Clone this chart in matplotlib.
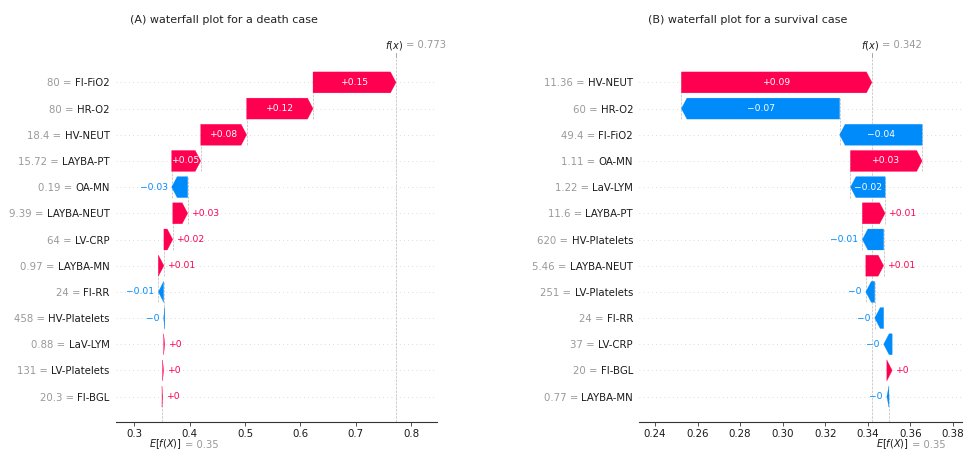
import re
import numpy as np
import matplotlib
matplotlib.use("Agg")
import matplotlib.pyplot as plt
import matplotlib.transforms as mtrans

# ---------------- data (rows listed top to bottom) ----------------
a_features = ["FI-FiO2", "HR-O2", "HV-NEUT", "LAYBA-PT", "OA-MN", "LAYBA-NEUT", "LV-CRP",
              "LAYBA-MN", "FI-RR", "HV-Platelets", "LaV-LYM", "LV-Platelets", "FI-BGL"]
a_feature_values = ["80", "80", "18.4", "15.72", "0.19", "9.39", "64",
                    "0.97", "24", "458", "0.88", "131", "20.3"]
a_shap = [0.15, 0.12, 0.083, 0.0525, -0.029, 0.027, 0.016,
          0.010, -0.0095, -0.002, 0.002, 0.002, 0.001]
a_base = 0.35
a_xticks = [0.3, 0.4, 0.5, 0.6, 0.7, 0.8]
a_xticklabels = ["0.3", "0.4", "0.5", "0.6", "0.7", "0.8"]
a_title = "(A) waterfall plot for a death case"

b_features = ["HV-NEUT", "HR-O2", "FI-FiO2", "OA-MN", "LaV-LYM", "LAYBA-PT", "HV-Platelets",
              "LAYBA-NEUT", "LV-Platelets", "FI-RR", "LV-CRP", "FI-BGL", "LAYBA-MN"]
b_feature_values = ["11.36", "60", "49.4", "1.11", "1.22", "11.6", "620",
                    "5.46", "251", "24", "37", "20", "0.77"]
b_shap = [0.0896, -0.0744, -0.0388, 0.0337, -0.0163, 0.0107, -0.0100,
          0.0084, -0.0042, -0.0042, -0.004, 0.0025, -0.001]
b_base = 0.35
b_xticks = [0.24, 0.26, 0.28, 0.30, 0.32, 0.34, 0.36, 0.38]
b_xticklabels = ["0.24", "0.26", "0.28", "0.30", "0.32", "0.34", "0.36", "0.38"]
b_title = "(B) waterfall plot for a survival case"

RED = "#ff0051"
BLUE = "#008bfb"
W, H = 970, 450


def fmt(v, f):
    s = f % v
    s = re.sub(r"\.?0+$", "", s)
    if s.startswith("-"):
        s = "\u2212" + s[1:]
    return s


fig = plt.figure(figsize=(W / 100, H / 100), dpi=100)
renderer = fig.canvas.get_renderer()


def waterfall(rect, features, fvals, shap, base, xlim, xticks, xticklabels, title, title_x):
    ax = fig.add_axes(rect)
    n = len(features)
    fx = base + float(np.sum(shap))
    ax.set_xlim(*xlim)
    ax.set_ylim(-0.97, n - 0.03)
    px_per_unit = rect[2] * W / (xlim[1] - xlim[0])
    hl = 5.5 / px_per_unit
    bar_w = 0.8

    for i in range(n):
        ax.axhline(i, color="#d0d0d0", lw=0.6, dashes=(1, 4), zorder=-1)

    loc = fx
    for i in range(n):
        y = n - 1 - i
        v = shap[i]
        start = loc - v
        if v >= 0:
            ax.arrow(start, y, max(v - hl, 1e-6), 0, head_length=min(v, hl),
                     width=bar_w, head_width=bar_w, color=RED, lw=0.2,
                     length_includes_head=False)
        else:
            ax.arrow(start, y, -max(-v - hl, 1e-6), 0, head_length=min(-v, hl),
                     width=bar_w, head_width=bar_w, color=BLUE, lw=0.2,
                     length_includes_head=False)
        label = fmt(v, "%+0.02f")
        txt = ax.text(start + v / 2, y, label, ha="center", va="center",
                      color="white", fontsize=6.6)
        tb = txt.get_window_extent(renderer=renderer)
        bar_px = abs(v) * px_per_unit
        if tb.width > bar_px:
            txt.remove()
            gap = 4.0 / px_per_unit
            if v >= 0:
                ax.text(loc + gap, y, label, ha="left", va="center",
                        color=RED, fontsize=6.6)
            else:
                ax.text(loc - gap, y, label, ha="right", va="center",
                        color=BLUE, fontsize=6.6)
        if i + 4 < n:
            ax.plot([start, start], [y - 1 - 0.4, y + 0.4], color="#bbbbbb",
                    ls="--", lw=0.5, zorder=-1)
        loc = start

    ax.axvline(base, 0, 1.0 / n, color="#bbbbbb", ls="--", lw=0.5, zorder=-1)
    ax.axvline(fx, 0, 1, color="#bbbbbb", ls="--", lw=0.5, zorder=-1)

    # y tick labels: feature name in black, its value in grey to the left
    ypos = [n - 1 - i for i in range(n)]
    ax.set_yticks(ypos)
    ax.set_yticklabels(list(features))
    ax.tick_params(axis="y", length=0, pad=4.5, labelsize=7.3, labelcolor="#1a1a1a")

    ax.set_xticks(xticks)
    ax.set_xticklabels(xticklabels)
    ax.tick_params(axis="x", labelsize=7.4, length=3, width=0.6, color="#333333",
                   labelcolor="#1a1a1a", pad=2.0)
    for s in ["left", "top", "right"]:
        ax.spines[s].set_visible(False)
    ax.spines["bottom"].set_color("#333333")
    ax.spines["bottom"].set_linewidth(0.8)

    bt = mtrans.blended_transform_factory(ax.transData, ax.transAxes)
    # f(x) label at top
    ax.annotate("$f(x)$", xy=(fx, 1), xycoords=bt,
                xytext=(7, 11.5), textcoords="offset pixels", ha="right", va="center",
                fontsize=7.0, color="#1a1a1a")
    ax.annotate("= " + fmt(fx, "%0.03f"), xy=(fx, 1), xycoords=bt,
                xytext=(10, 11.5), textcoords="offset pixels", ha="left", va="center",
                fontsize=7.2, color="#999999")
    ax.plot([fx, fx], [1.0, 1.012], transform=bt, color="#999999", lw=0.6, clip_on=False)
    # E[f(X)] label at bottom
    ax.annotate("$E[f(X)]$", xy=(base, 0), xycoords=bt,
                xytext=(20, -22.5), textcoords="offset pixels", ha="right", va="center",
                fontsize=7.0, color="#1a1a1a")
    ax.annotate("= " + fmt(base, "%0.03f"), xy=(base, 0), xycoords=bt,
                xytext=(23, -23), textcoords="offset pixels", ha="left", va="center",
                fontsize=7.2, color="#999999")

    fig.text(title_x / W, 1 - 20 / H, title, ha="center", va="center",
             fontsize=8, color="#222222")
    return ax, fvals, ypos


ax_a = waterfall([116 / W, (H - 422) / H, (437 - 116) / W, (422 - 57) / H],
                 a_features, a_feature_values, a_shap, a_base,
                 (0.2669, 0.8471), a_xticks, a_xticklabels, a_title, 224)
ax_b = waterfall([639.3 / W, (H - 422) / H, (961.7 - 639.3) / W, (422 - 57) / H],
                 b_features, b_feature_values, b_shap, b_base,
                 (0.2326, 0.3842), b_xticks, b_xticklabels, b_title, 747.5)

fig.canvas.draw()
for ax, fvals, ypos in (ax_a, ax_b):
    tr = mtrans.blended_transform_factory(mtrans.IdentityTransform(), ax.transData)
    for lab, val, yp in zip(ax.get_yticklabels(), fvals, ypos):
        ext = lab.get_window_extent(renderer=fig.canvas.get_renderer())
        ax.annotate(val + " =", xy=(ext.x0 - 3.3, yp), xycoords=tr,
                    ha="right", va="center_baseline", fontsize=7.3,
                    color="#999999", annotation_clip=False)

fig.savefig("out.png", dpi=100)
